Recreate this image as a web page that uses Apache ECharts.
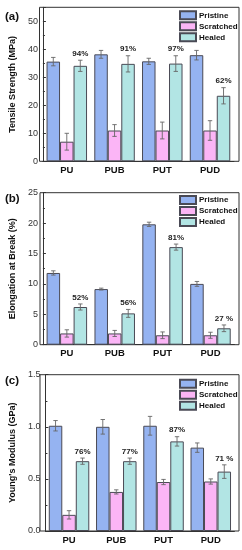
<!DOCTYPE html>
<html><head><meta charset="utf-8">
<script src="https://cdn.jsdelivr.net/npm/echarts@6/dist/echarts.min.js"></script>
<style>html,body{margin:0;padding:0;background:#fff}#c{width:242px;height:550px}</style>
</head><body><div id="c"></div>
<script>
const categories = ['PU', 'PUB', 'PUT', 'PUD'];
const seriesNames = ['Pristine', 'Scratched', 'Healed'];

// (a) Tensile Strength (MPa)
const tsPristine = [35.6, 38.2, 35.7, 37.9];
const tsPristineErr = [1.5, 1.4, 1.1, 1.7];
const tsScratched = [7.0, 11.0, 11.0, 11.0];
const tsScratchedErr = [3.0, 2.1, 3.0, 3.5];
const tsHealed = [34.1, 34.8, 34.9, 23.4];
const tsHealedErr = [2.0, 2.9, 2.8, 2.9];
const tsLabels = ['94%', '91%', '97%', '62%'];
const tsTicks = { min: 0, max: 55, interval: 10 };

// (b) Elongation at Break (%)
const elPristine = [11.8, 9.15, 19.8, 10.0];
const elPristineErr = [0.35, 0.15, 0.35, 0.4];
const elScratched = [1.85, 1.85, 1.55, 1.55];
const elScratchedErr = [0.6, 0.5, 0.55, 0.5];
const elHealed = [6.2, 5.15, 16.05, 2.7];
const elHealedErr = [0.5, 0.65, 0.5, 0.55];
const elLabels = ['52%', '56%', '81%', '27 %'];
const elTicks = { min: 0, max: 25, interval: 5 };

// (c) Young's Modulus (GPa)
const ymPristine = [1.01, 1.0, 1.01, 0.80];
const ymPristineErr = [0.05, 0.07, 0.09, 0.045];
const ymScratched = [0.155, 0.375, 0.47, 0.475];
const ymScratchedErr = [0.04, 0.02, 0.025, 0.025];
const ymHealed = [0.67, 0.67, 0.86, 0.57];
const ymHealedErr = [0.03, 0.03, 0.045, 0.065];
const ymLabels = ['76%', '77%', '87%', '71 %'];
const ymTicks = { min: 0, max: 1.5, interval: 0.5 };

const colors = ['#95b3f1', '#fbb5f6', '#b2e5e4'];
const BW = 13.5;
const FONT = 'Arial, "Liberation Sans", sans-serif';

const panels = [
  { name: 'Tensile Strength (MPa)', letter: '(a)', top: 7.3, height: 154, left: 39.5,
    means: [tsPristine, tsScratched, tsHealed], errs: [tsPristineErr, tsScratchedErr, tsHealedErr],
    labels: tsLabels, ticks: tsTicks, fmt: v => String(v), legendTop: 10.3, showMax: false },
  { name: 'Elongation at Break (%)', letter: '(b)', top: 192.7, height: 152, left: 40,
    means: [elPristine, elScratched, elHealed], errs: [elPristineErr, elScratchedErr, elHealedErr],
    labels: elLabels, ticks: elTicks, fmt: v => String(v), legendTop: 195, showMax: true },
  { name: "Young's Modulus (GPa)", letter: '(c)', top: 374.7, height: 156.3, left: 40,
    means: [ymPristine, ymScratched, ymHealed], errs: [ymPristineErr, ymScratchedErr, ymHealedErr],
    labels: ymLabels, ticks: ymTicks, fmt: v => v.toFixed(1), legendTop: 378.7, showMax: true }
];

const grid = [], xAxis = [], yAxis = [], series = [], legend = [], title = [];
panels.forEach((p, pi) => {
  const g = pi * 2;
  grid.push({ left: p.left, top: p.top, width: 194.4, height: p.height });
  grid.push({ left: p.left, top: p.top, width: 239 - p.left, height: p.height, show: true,
    borderColor: '#333', borderWidth: 1, backgroundColor: 'transparent' });
  xAxis.push({ type: 'category', gridIndex: g, data: categories,
    axisLine: { lineStyle: { color: '#333', width: 1 } },
    axisTick: { alignWithLabel: true, inside: false, length: 3, lineStyle: { color: '#333' } },
    axisLabel: { fontFamily: FONT, fontWeight: 'bold', fontSize: 9.5, color: '#111', margin: 4 } });
  xAxis.push({ type: 'value', gridIndex: g + 1, show: false, min: 0, max: 1 });
  yAxis.push({ type: 'value', gridIndex: g, min: p.ticks.min, max: p.ticks.max, interval: p.ticks.interval,
    name: p.name, nameLocation: 'middle', nameGap: 14,
    nameTextStyle: { fontFamily: FONT, fontWeight: 'bold', fontSize: 9, color: '#111' },
    axisLine: { show: true, lineStyle: { color: '#333', width: 1 } },
    axisTick: { show: true, inside: true, length: 3, lineStyle: { color: '#333' } },
    minorTick: { show: true, splitNumber: 2, length: 2, lineStyle: { color: '#333' } },
    splitLine: { show: false },
    axisLabel: { fontFamily: FONT, fontSize: 9, color: '#333', margin: 5, formatter: p.fmt,
      showMaxLabel: p.showMax } });
  yAxis.push({ type: 'value', gridIndex: g + 1, show: false, min: 0, max: 1 });

  seriesNames.forEach((sn, k) => {
    series.push({ type: 'bar', name: sn, xAxisIndex: g, yAxisIndex: g, data: p.means[k],
      barWidth: BW, barGap: '0%',
      itemStyle: { color: colors[k], borderColor: '#4a4a55', borderWidth: 1 } });
  });
  seriesNames.forEach((sn, k) => {
    const off = (k - 1) * BW;
    series.push({ type: 'custom', xAxisIndex: g, yAxisIndex: g, silent: true, z: 5,
      data: categories.map((c, i) => [i, p.means[k][i], p.errs[k][i]]),
      encode: { x: 0, y: 1 },
      renderItem: (params, api) => {
        const i = api.value(0), m = api.value(1), e = api.value(2);
        const x = api.coord([i, m])[0] + off;
        const yt = api.coord([i, m + e])[1];
        const yb = api.coord([i, m - e])[1];
        const st = { stroke: '#666', lineWidth: 0.9 };
        return { type: 'group', children: [
          { type: 'line', shape: { x1: x, y1: yt, x2: x, y2: yb }, style: st },
          { type: 'line', shape: { x1: x - 2.2, y1: yt, x2: x + 2.2, y2: yt }, style: st },
          { type: 'line', shape: { x1: x - 2.2, y1: yb, x2: x + 2.2, y2: yb }, style: st }
        ] };
      } });
  });
  series.push({ type: 'custom', xAxisIndex: g, yAxisIndex: g, silent: true, z: 6,
    data: categories.map((c, i) => [i, p.means[2][i] + p.errs[2][i], p.labels[i]]),
    encode: { x: 0, y: 1 },
    renderItem: (params, api) => {
      const i = api.value(0), v = api.value(1);
      const c = api.coord([i, v]);
      return { type: 'text', style: { x: c[0] + BW, y: c[1] - 2.5, text: p.labels[i],
        fontFamily: FONT, fontWeight: 'bold', fontSize: 8, fill: '#222', align: 'center', verticalAlign: 'bottom' } };
    } });

  legend.push({ data: seriesNames, orient: 'vertical', left: 179, top: p.legendTop, padding: 0,
    itemWidth: 16, itemHeight: 8, itemGap: 1, icon: 'rect', selectedMode: false,
    textStyle: { fontFamily: FONT, fontWeight: 'bold', fontSize: 8, color: '#111', padding: [0, 0, 0, -2] } });
  title.push({ text: p.letter, left: 5, top: p.top + 2 + (pi === 0 ? 2 : -2), padding: 0,
    textStyle: { fontFamily: FONT, fontWeight: 'bold', fontSize: 11.5, color: '#111' } });
});

const chart = echarts.init(document.getElementById('c'), null, { renderer: 'canvas' });
chart.setOption({ animation: false, backgroundColor: '#fff', title, legend, grid, xAxis, yAxis, series });
</script></body></html>
